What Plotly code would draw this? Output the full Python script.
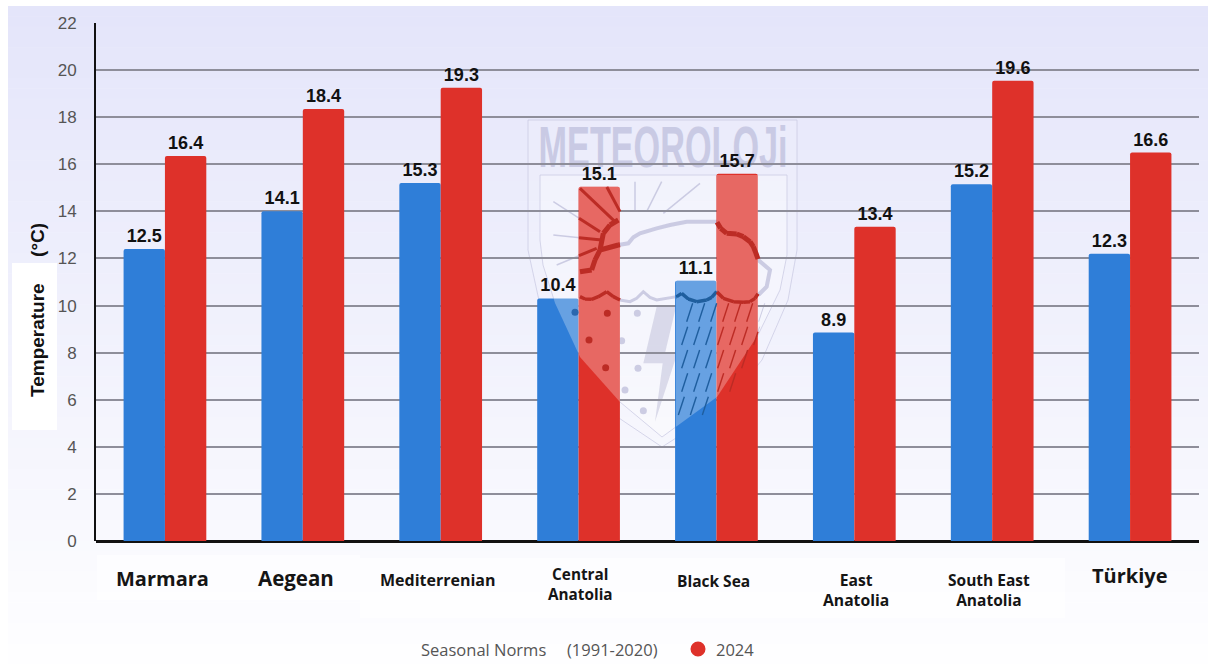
import plotly.graph_objects as go

regions = ["Marmara", "Aegean", "Mediterrenian", "Central Anatolia", "Black Sea", "East Anatolia", "South East Anatolia", "Türkiye"]
norm_heights = [12.4, 14.0, 15.2, 10.3, 11.05, 8.85, 15.15, 12.2]
y2024_heights = [16.35, 18.35, 19.25, 15.05, 15.6, 13.35, 19.55, 16.5]
norm_labels = ["12.5", "14.1", "15.3", "10.4", "11.1", "8.9", "15.2", "12.3"]
y2024_labels = ["16.4", "18.4", "19.3", "15.1", "15.7", "13.4", "19.6", "16.6"]
y_ticks = [0, 2, 4, 6, 8, 10, 12, 14, 16, 18, 20, 22]
category_text = ["Marmara", "Aegean", "Mediterrenian", "Central<br>Anatolia", "Black Sea", "East<br>Anatolia", "South East<br>Anatolia", "Türkiye"]

L, R, T, B = 96, 1199, 23, 541
W, H = 1208, 664
BLUE, RED = "#2F7ED8", "#DE312A"
def px(x): return (x - L) / (R - L)
def py(y): return (B - y) / (B - T)
def zx(x): return 500 + x / 3
def zy(y): return 100 + y / 3
def path(pts, close=False):
    return "M" + " L".join(f"{px(x):.5f},{py(y):.5f}" for x, y in pts) + (" Z" if close else "")

shapes = []
# background gradient
N = 64
top, bot = (228, 229, 250), (254, 254, 255)
y0, y1 = 6, 664
for i in range(N):
    t = i / (N - 1)
    c = tuple(round(a + (b - a) * t) for a, b in zip(top, bot))
    ya = y0 + (y1 - y0) * i / N
    yb = y0 + (y1 - y0) * (i + 1) / N + 0.5
    shapes.append(dict(type="rect", xref="paper", yref="paper", x0=px(8), x1=px(W), y0=py(ya), y1=py(yb),
                       fillcolor=f"rgb{c}", line_width=0, layer="below"))
# white patches behind the axis title and labels
for x0, x1, ya, yb, alpha in [(12, 57, 263, 430, 0.95), (97, 360, 555, 600, 0.6), (360, 1065, 558, 618, 0.6)]:
    shapes.append(dict(type="rect", xref="paper", yref="paper", x0=px(x0), x1=px(x1), y0=py(ya), y1=py(yb),
                       fillcolor=f"rgba(255,255,255,{alpha})", line_width=0, layer="below"))

# watermark geometry (reference crop coordinates)
shield_inner = [(540, 175), (787, 175), (787, 255), (780, 290), (758, 335), (717, 397), (662, 437), (620, 402), (580, 357), (555, 303), (543, 265), (540, 240)]
shield_outer = [(528, 120), (797, 120), (797, 250), (788, 300), (762, 360), (720, 410), (662, 447), (610, 412), (565, 360), (540, 305), (528, 250)]
cloud_low = [(240,590),(255,597),(275,598),(295,590),(320,575),(340,590),(360,600),(390,605),(410,595),(430,575),(450,592),(470,600),(530,590),(545,580),(565,597),(590,605),(620,600),(635,592),(650,575),(670,595),(700,605),(730,607),(750,605),(765,595),(775,580)]
cloud_up = [(240,515),(275,510),(285,480),(300,450),(355,435),(385,430),(400,412),(420,400),(470,385),(510,375),(560,365),(620,365),(650,365),(662,385),(680,400),(710,402),(730,410),(750,425),(760,440),(768,460),(775,480),(810,510),(800,560),(775,585)]
sun = [(300,450),(310,400),(330,375),(355,360)]
rays = [[(160,305),(300,395)],[(160,405),(305,420)],[(170,495),(290,445)],[(240,265),(345,365)],[(320,260),(360,335)],
        [(405,245),(405,335)],[(485,245),(440,335)],[(600,250),(490,340)]]
rain = []
for ry, xs in [(610, range(560, 780, 36)), (680, range(545, 780, 36)), (750, range(545, 740, 36)), (820, range(545, 700, 36)), (890, range(535, 640, 36))]:
    for rx in xs:
        rain.append([(rx + 18, ry), (rx, ry + 55)])
dots = [(225,637),(322,640),(412,640),(267,720),(365,722),(317,803),(414,805),(375,870),(430,932)]
bolt = [(470,620),(528,620),(495,760),(532,760),(465,965),(488,790),(430,790)]
def z(pts): return [(zx(a), zy(b)) for a, b in pts]

GRAY = "rgba(190,190,218,0.75)"
shapes.append(dict(type="path", xref="paper", yref="paper", path=path(shield_outer, True), fillcolor="rgba(255,255,255,0.12)",
                   line=dict(color="rgba(200,200,225,0.7)", width=1), layer="below"))
shapes.append(dict(type="path", xref="paper", yref="paper", path=path(shield_inner, True), fillcolor="rgba(255,255,255,0.3)",
                   line=dict(color="rgba(200,200,225,0.7)", width=1), layer="below"))
shapes.append(dict(type="path", xref="paper", yref="paper", path=path(z(bolt), True), fillcolor="rgba(205,205,225,0.7)", line_width=0, layer="below"))
lines = [(cloud_low, 3, 3.5), (cloud_up, 4, 5), (sun, 4, 5)] + [(r, 1.5, 3) for r in rays] + [(r, 1, 1.4) for r in rain]
for pts, w, _ in lines:
    shapes.append(dict(type="path", xref="paper", yref="paper", path=path(z(pts)), line=dict(color=GRAY, width=w), layer="below"))
for dx, dy in dots:
    cx, cy = zx(dx), zy(dy)
    shapes.append(dict(type="circle", xref="paper", yref="paper", x0=px(cx-3.5), x1=px(cx+3.5), y0=py(cy+3.5), y1=py(cy-3.5),
                       fillcolor=GRAY, line_width=0, layer="below"))

# emblem parts kept to the bars it crosses
def clip(a, b, r):
    t0, t1 = 0.0, 1.0
    dx, dy = b[0]-a[0], b[1]-a[1]
    for p, q in [(-dx, a[0]-r[0]), (dx, r[1]-a[0]), (-dy, a[1]-r[2]), (dy, r[3]-a[1])]:
        if p == 0:
            if q < 0: return None
        else:
            u = q / p
            if p < 0: t0 = max(t0, u)
            else: t1 = min(t1, u)
    if t0 >= t1: return None
    return (a[0]+t0*dx, a[1]+t0*dy), (a[0]+t1*dx, a[1]+t1*dy)

def clip_poly(poly, r):
    out = poly
    edges = [(0, r[0], 1), (0, r[1], -1), (1, r[2], 1), (1, r[3], -1)]
    for axis, lim, sign in edges:
        src, out = out, []
        for i, cur in enumerate(src):
            prev = src[i-1]
            ci, pi = sign*(cur[axis]-lim) >= 0, sign*(prev[axis]-lim) >= 0
            if ci != pi:
                u = (lim-prev[axis])/(cur[axis]-prev[axis])
                out.append((prev[0]+u*(cur[0]-prev[0]), prev[1]+u*(cur[1]-prev[1])))
            if ci:
                out.append(cur)
    return out

zones = [((538, 579, 298, 541), "#2A67AE"), ((579, 620, 187, 541), "#BC2C25"),
         ((676, 717, 281, 541), "#1F5E9E"), ((717, 758, 173, 541), "#BC2C25")]
# veil over the bars only, so the value labels stay dark
for rect, _ in zones:
    shapes.append(dict(type="path", xref="paper", yref="paper", path=path(clip_poly(shield_inner, rect), True),
                       fillcolor="rgba(255,255,255,0.27)", line_width=0, layer="above"))
for pts, _, w in lines:
    q = z(pts)
    for rect, col in zones:
        kept = []
        for a, b in zip(q, q[1:]):
            seg = clip(a, b, rect)
            if seg:
                kept.append("M" + " L".join(f"{px(x):.5f},{py(y):.5f}" for x, y in seg))
        if kept:
            shapes.append(dict(type="path", xref="paper", yref="paper", path=" ".join(kept),
                               line=dict(color=col, width=w), layer="above"))
for dx, dy in dots:
    cx, cy = zx(dx), zy(dy)
    for rect, col in zones:
        if rect[0] < cx < rect[1]:
            shapes.append(dict(type="circle", xref="paper", yref="paper", x0=px(cx-3.5), x1=px(cx+3.5), y0=py(cy+3.5), y1=py(cy-3.5),
                               fillcolor=col, line_width=0, layer="above"))

# legend marker
shapes.append(dict(type="circle", xref="paper", yref="paper", x0=px(690.5), x1=px(705.5), y0=py(656.5), y1=py(641.5),
                   fillcolor=RED, line_width=0, layer="above"))

SANS = "Liberation Sans, Arial, sans-serif"
OPEN = "Open Sans, Noto Sans, sans-serif"
cat_style = [(20, -2, 578), (20.5, -7, 578), (16, -3, 580), (15.3, 2, 584), (15.5, -3, 581), (15.7, 2, 590), (15.5, -3, 590), (20, 0, 575)]
ann = []
for r, txt, (size, xs, yc) in zip(regions, category_text, cat_style):
    ann.append(dict(x=r, xref="x", xshift=xs, y=py(yc), yref="paper", text=f"<b>{txt}</b>", showarrow=False,
                    font=dict(family=OPEN, size=size, color="#151515"), yanchor="middle", xanchor="center", align="center"))
ann.append(dict(x=px(37), y=py(310), xref="paper", yref="paper", text="<b>Temperature     (°C)</b>", textangle=-90, showarrow=False,
                font=dict(family=SANS, size=19, color="#111"), xanchor="center", yanchor="middle"))
ann.append(dict(x=px(662.5), y=py(146), xref="paper", yref="paper", text="<b>METEOROLOJi</b>", showarrow=False, opacity=0.9,
                font=dict(family=SANS, size=58, color="#C6C7E2"), xanchor="center", yanchor="middle"))
for txt, x in [("Seasonal Norms", 419), ("(1991-2020)", 565), ("2024", 714)]:
    ann.append(dict(x=px(x), y=py(649), xref="paper", yref="paper", text=txt, showarrow=False,
                    font=dict(family=OPEN, size=16.5, color="#555"), xanchor="left", yanchor="middle"))

fig = go.Figure()
fig.add_bar(name="Seasonal Norms (1991-2020)", x=regions, y=norm_heights, text=norm_labels, marker=dict(color=BLUE, line_width=0))
fig.add_bar(name="2024", x=regions, y=y2024_heights, text=y2024_labels, marker=dict(color=RED, line_width=0))
fig.update_traces(textposition="outside", cliponaxis=False, constraintext="none",
                  textfont=dict(family=SANS, size=18, color="#111", weight="bold"))
fig.update_layout(
    width=W, height=H, margin=dict(l=L, r=W-R, t=T, b=H-B, autoexpand=False),
    barmode="group", bargap=0.4, bargroupgap=0, barcornerradius=2,
    paper_bgcolor="white", plot_bgcolor="rgba(0,0,0,0)", showlegend=False,
    shapes=shapes, annotations=ann,
    xaxis=dict(showticklabels=False, ticks="", showline=False, showgrid=False, zeroline=False),
    yaxis=dict(range=[0, 22], tickvals=y_ticks, ticks="", showgrid=True, gridcolor="#8E8E9A", gridwidth=1.5,
               showline=True, linecolor="#111", linewidth=2, zeroline=True, zerolinecolor="#111", zerolinewidth=3,
               tickfont=dict(family=SANS, size=17, color="#555"), ticklabelstandoff=14),
)
post = """
document.body.style.margin='0';document.body.style.overflow='hidden';
document.querySelectorAll('.annotation').forEach(function(g){
  var t=g.querySelector('text');
  if(t && t.textContent==='METEOROLOJi'){
    t.setAttribute('textLength','249');t.setAttribute('lengthAdjust','spacingAndGlyphs');
    var below=document.querySelector('.layer-below');
    if(below){below.appendChild(g);}
  }
});
"""
fig.write_html("out.html", post_script=post, config=dict(displayModeBar=False))
